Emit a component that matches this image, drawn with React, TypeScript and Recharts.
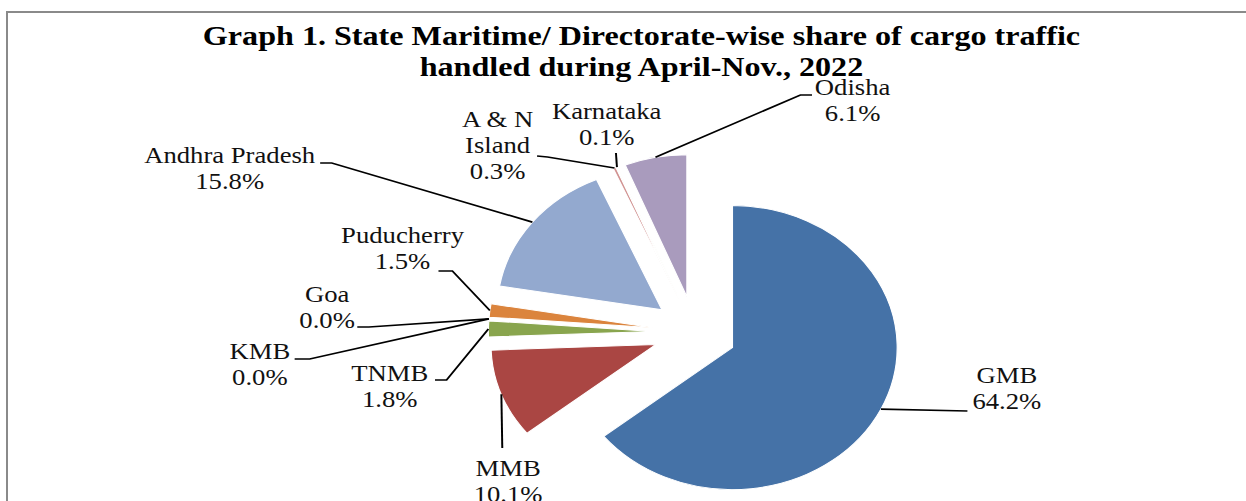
import { PieChart, Pie, Cell } from 'recharts'

// shares of cargo traffic, April-Nov. 2022 (per cent)
const STATE_NAMES = ['GMB', 'MMB', 'TNMB', 'KMB', 'Goa', 'Puducherry', 'Andhra Pradesh', 'A & N Island', 'Karnataka', 'Odisha']
const SHARE_PCT = [64.2, 10.1, 1.8, 0.0, 0.0, 1.5, 15.8, 0.3, 0.1, 6.1]
const SLICE_COLORS = ['#4572A7', '#AA4643', '#89A54E', '#71588F', '#4198AF', '#DB843D', '#93A9CF', '#D19392', '#B9CD96', '#A99BBD']

const TITLE_LINES = ['Graph 1. State Maritime/ Directorate-wise share of cargo traffic', 'handled during April-Nov., 2022']

// the original picture is stretched sideways, so the whole chart is drawn narrow and scaled
const STRETCH = 1.16
const W = 1246 / STRETCH
const H = 501
const CX = 599
const CY = 332
const R = 142
const EXPLODE = 36
const RAD = Math.PI / 180
const FONT = '"Liberation Serif", "Times New Roman", serif'

// where each label sits and how its leader line bends
const LABEL_LAYOUT: Record<string, { x: number; y: number; lines?: string[]; elbow?: [number, number]; end: [number, number] }> = {
  'GMB': { x: 868, y: 383, end: [834, 411] },
  'MMB': { x: 438, y: 476, end: [433, 448] },
  'TNMB': { x: 336, y: 381, elbow: [385, 380], end: [375, 380] },
  'KMB': { x: 224, y: 359, elbow: [267, 359], end: [254, 359] },
  'Goa': { x: 282, y: 302, elbow: [318, 327], end: [308, 327] },
  'Puducherry': { x: 347, y: 243, elbow: [390, 271], end: [378, 271] },
  'Andhra Pradesh': { x: 198, y: 163, elbow: [286, 163], end: [276, 163] },
  'A & N Island': { x: 429, y: 127, lines: ['A & N', 'Island'], elbow: [472, 157], end: [463, 156] },
  'Karnataka': { x: 523, y: 119, end: [531, 153] },
  'Odisha': { x: 735, y: 95, elbow: [690, 95], end: [700, 95] },
}

const pieData = STATE_NAMES.map((name, i) => ({ name, value: SHARE_PCT[i] }))
const total = SHARE_PCT.reduce((s, v) => s + v, 0)

// mid angle of every slice, recharts convention (clockwise from 12 o'clock)
const midAngles: number[] = []
let acc = 0
SHARE_PCT.forEach(v => {
  midAngles.push(90 - (360 * (acc + v / 2)) / total)
  acc += v
})

const renderLabel = (props: any) => {
  const { cx, cy, midAngle, outerRadius, index } = props
  const name = STATE_NAMES[index]
  const lay = LABEL_LAYOUT[name]
  const r = outerRadius + EXPLODE
  const sx = cx + r * Math.cos(-midAngle * RAD)
  const sy = cy + r * Math.sin(-midAngle * RAD)
  const pts = [[sx, sy], ...(lay.elbow ? [lay.elbow] : []), lay.end]
  const lines = [...(lay.lines || [name]), `${SHARE_PCT[index].toFixed(1)}%`]
  return (
    <g key={`lbl-${index}`}>
      <polyline points={pts.map(p => p.join(',')).join(' ')} fill="none" stroke="#000" strokeWidth={1.7} />
      <text x={lay.x} y={lay.y} textAnchor="middle" fontFamily={FONT} fontSize={23} fill="#111">
        {lines.map((l, j) => (
          <tspan key={j} x={lay.x} dy={j ? 26 : 0}>{l}</tspan>
        ))}
      </text>
    </g>
  )
}

export default function App() {
  return (
    <div style={{ position: 'absolute', left: 0, top: 0, width: 1246, height: 501, overflow: 'hidden', background: '#fff' }}>
      <div style={{ position: 'absolute', left: 6, top: 11, width: 1300, height: 600, borderTop: '2px solid #8a8a8a', borderLeft: '2px solid #8a8a8a' }} />
      <div style={{ position: 'absolute', left: 0, top: 0, width: W, height: H, transform: `scaleX(${STRETCH})`, transformOrigin: '0 0' }}>
        <PieChart width={W} height={H} margin={{ top: 0, right: 0, bottom: 0, left: 0 }}>
          <text x={553} y={45} textAnchor="middle" fontFamily={FONT} fontWeight="bold" fontSize={27.7} fill="#000">{TITLE_LINES[0]}</text>
          <text x={553} y={76} textAnchor="middle" fontFamily={FONT} fontWeight="bold" fontSize={27.7} fill="#000">{TITLE_LINES[1]}</text>
          {STATE_NAMES.map((_, k) => {
            const a = midAngles[k] * RAD
            return (
              <Pie
                key={`slice-${k}`}
                data={pieData}
                dataKey="value"
                nameKey="name"
                cx={CX + EXPLODE * Math.cos(a)}
                cy={CY - EXPLODE * Math.sin(a)}
                outerRadius={R}
                startAngle={90}
                endAngle={-270}
                isAnimationActive={false}
                label={false}
                labelLine={false}
              >
                {pieData.map((d, i) => (
                  <Cell key={d.name} fill={i === k ? SLICE_COLORS[i] : 'none'} stroke={i === k ? '#fff' : 'none'} strokeWidth={1} />
                ))}
              </Pie>
            )
          })}
          <Pie
            data={pieData}
            dataKey="value"
            nameKey="name"
            cx={CX}
            cy={CY}
            outerRadius={R}
            startAngle={90}
            endAngle={-270}
            isAnimationActive={false}
            fill="none"
            stroke="none"
            label={renderLabel}
            labelLine={false}
          />
        </PieChart>
      </div>
    </div>
  )
}
